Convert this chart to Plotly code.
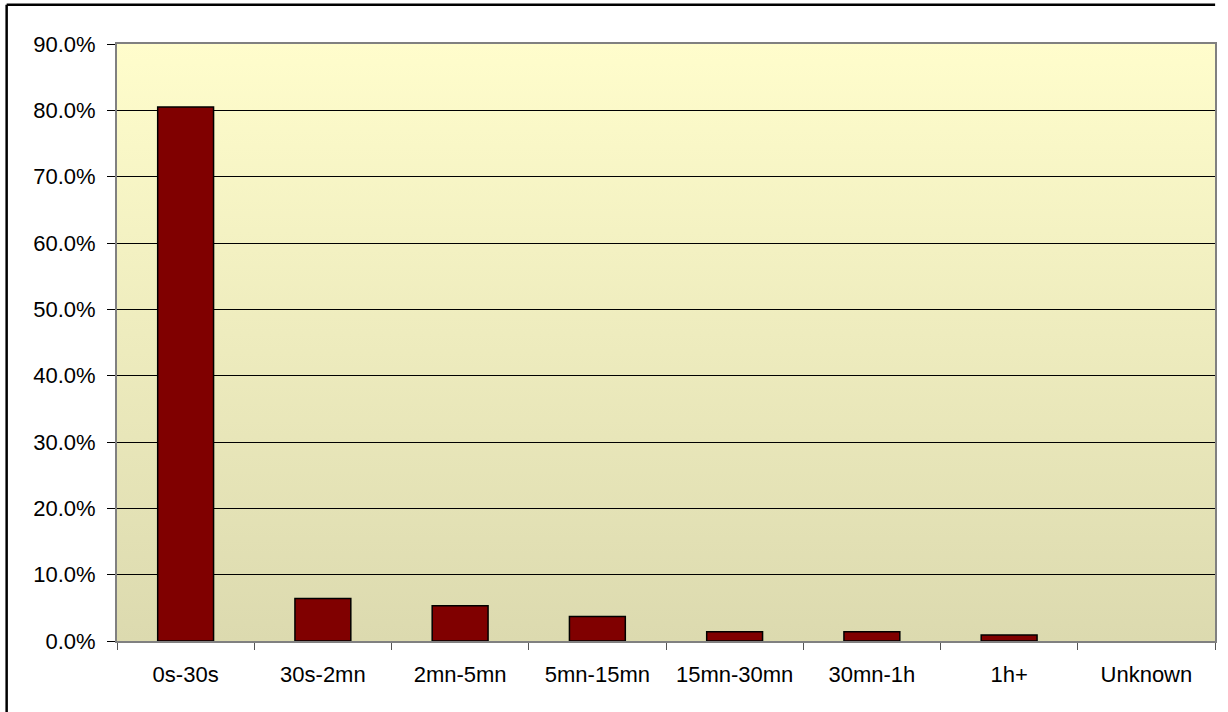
import base64
import plotly.graph_objects as go

# Share of sessions by duration bucket
categories = ["0s-30s", "30s-2mn", "2mn-5mn", "5mn-15mn", "15mn-30mn", "30mn-1h", "1h+", "Unknown"]
shares = [0.805, 0.064, 0.053, 0.037, 0.014, 0.014, 0.009, 0.0]

y_ticks = [i / 10 for i in range(10)]

# Vertical yellow-to-khaki gradient used as the plot-area background
gradient_svg = (
    '<svg xmlns="http://www.w3.org/2000/svg" width="10" height="100" preserveAspectRatio="none">'
    '<defs><linearGradient id="g" x1="0" y1="0" x2="0" y2="1">'
    '<stop offset="0" stop-color="#FFFDCC"/><stop offset="1" stop-color="#DCDAAF"/>'
    '</linearGradient></defs><rect width="10" height="100" fill="url(#g)"/></svg>'
)
gradient_uri = "data:image/svg+xml;base64," + base64.b64encode(gradient_svg.encode()).decode()

font_family = "Liberation Sans, Arial, sans-serif"

# empty buckets get no outline so nothing is drawn for them
outline_widths = [1.5 if v > 0 else 0 for v in shares]

fig = go.Figure(
    go.Bar(
        x=categories,
        y=shares,
        marker=dict(color="#800000", line=dict(color="#000000", width=outline_widths)),
        hovertemplate="%{x}: %{y:.1%}<extra></extra>",
    )
)

fig.update_layout(
    width=1228,
    height=712,
    margin=dict(l=117, r=11, t=44, b=71),
    paper_bgcolor="#FFFFFF",
    plot_bgcolor="rgba(0,0,0,0)",
    bargap=0.593,
    showlegend=False,
    font=dict(family=font_family, size=22, color="#000000"),
    images=[
        dict(
            source=gradient_uri,
            xref="paper", yref="paper",
            x=0, y=1, sizex=1, sizey=1,
            xanchor="left", yanchor="top",
            sizing="stretch", layer="below",
        )
    ],
    shapes=[
        # chart frame: top and left edges
        dict(type="line", xref="paper", yref="paper",
             x0=-0.1005, x1=1.0001, y0=1.0658, y1=1.0658,
             line=dict(color="#000000", width=2.5)),
        dict(type="line", xref="paper", yref="paper",
             x0=-0.1005, x1=-0.1005, y0=1.0658, y1=-0.2,
             line=dict(color="#000000", width=2.5)),
    ],
)

fig.update_xaxes(
    type="category",
    tickson="boundaries",
    ticks="outside",
    ticklen=7,
    tickwidth=1,
    tickcolor="#555555",
    showline=True,
    linecolor="#808080",
    linewidth=2,
    mirror=True,
    showgrid=False,
    ticklabelstandoff=13,
    tickfont=dict(family=font_family, size=22, color="#000000"),
)

fig.update_yaxes(
    range=[0, 0.9],
    tickvals=y_ticks,
    tickformat=".1%",
    ticks="outside",
    ticklen=8,
    tickwidth=1,
    tickcolor="#000000",
    showline=True,
    linecolor="#808080",
    linewidth=2,
    mirror=True,
    showgrid=True,
    gridcolor="#000000",
    gridwidth=1,
    zeroline=False,
    ticklabelstandoff=7,
    tickfont=dict(family=font_family, size=22, color="#000000"),
)

fig.write_html("out.html")
